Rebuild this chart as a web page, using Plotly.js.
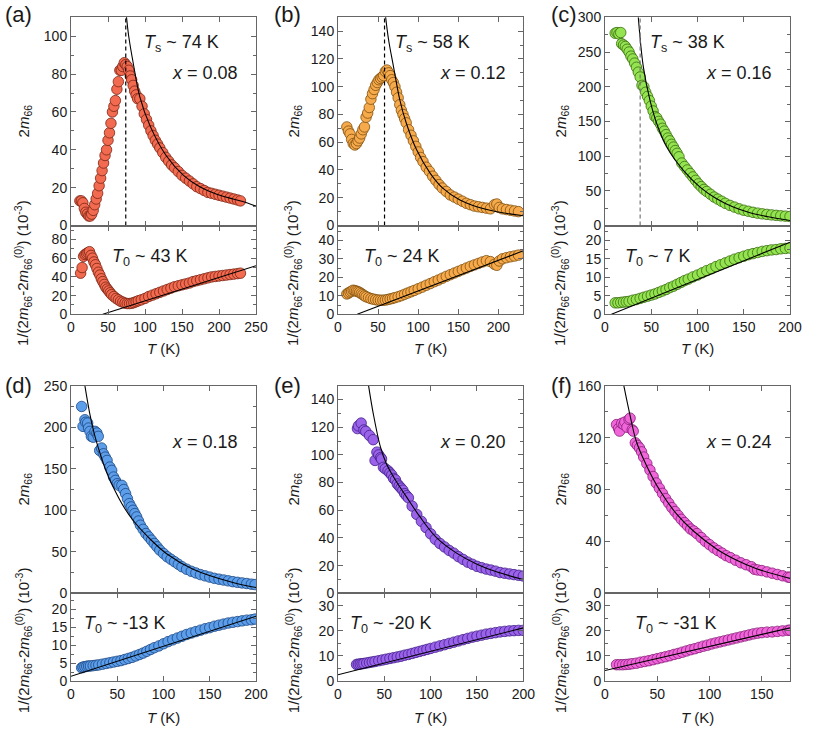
<!DOCTYPE html>
<html>
<head>
<meta charset="utf-8">
<script src="https://cdn.plot.ly/plotly-3.0.1.min.js"></script>
<style>html,body{margin:0;padding:0;background:#fff;}#chart{width:830px;height:736px;}</style>
</head>
<body>
<div id="chart"></div>
<script>
// ---------- DATA ----------
// Panel (a) x = 0.08
const aTopT = [12,14,16,18,20,22,24,26,28,30,32,34,36,38,40,42,44,46,48,50,52,54,56,58,60,62,64,66,68,70,72,74,76,78,80,82,84,86,88,90,93,96,99,102,105,108,111,114,117,120,124,128,132,136,140,145,150,155,160,165,170,175,180,185,190,195,200,205,210,215,220,225,229];
const aTopV = [13,13,12,9,7,6,5,5,6,8,11,14,17,21,25,29,33,37,40,45,49,54,60,63,66,72,76,82,82,84,86,85,84,82,79,77,74,71,69,67,67,63,59,56,53,50,47.5,45,43,41,38.5,36,34,32,30.5,28.5,26.5,25,23.5,22,20.5,19.5,18.5,17.5,17,16.5,16,15.5,15,14.5,14,13.5,13];
const aTopFitT = [74.5,78,84,93,107,129,152,174,197,219,231,250];
const aTopFitV = [112,100,86,68,52.5,36.7,26.5,20.5,16.5,14,12.8,10.2];
const aBotT = [13,15,17,19,21,23,25,27,29,31,33,35,37,39,41,43,45,47,49,51,53,55,58,61,64,67,70,73,76,79,82,85,88,91,95,100,105,110,115,120,125,130,135,140,145,150,155,160,165,170,175,180,185,190,195,200,205,210,215,220,225,229];
const aBotV = [44,50,62,64,65,66,67,63,60,56,53,49,45,42,38,35,32,29,27,25,23,21,19,17,15.5,14,13,12,11.5,11.5,11.8,12.5,13.5,14.5,15.5,17,19,20.5,22,23.5,25,26.5,28,29.5,30.5,31.5,32.5,33.5,35,36,37,38,39,40,40.5,41,41.5,42,42.5,43,43.5,44];
const aBotFitT = [43,250];
const aBotFitV = [0,52];

// Panel (b) x = 0.12
const bTopT = [11,13,15,17,19,21,23,25,27,29,31,33,35,37,39,41,43,45,47,49,51,53,55,57,59,61,63,65,67,69,71,73,75,77,79,81,83,85,88,91,94,97,100,103,106,110,114,118,122,126,130,135,140,145,150,155,160,165,170,175,180,185,190,195,198,201,205,210,215,220,225];
const bTopV = [71,68,66,62,59,58,59,61,63,66,69,71,78,81,85,91,95,98,101,103,105,106,107,108,111,112,110,108,105,103,100,96,92,87,83,80,77,74,69,65,61,57,53,49,46,42,39,35.5,32.5,29.5,27,24.5,22,20.5,19,17.5,16,15,14,13.5,13,12.5,12,15,15.5,13,12,11.5,11,10.5,10];
const bTopFitT = [59,63,69,77,85,98,115,131,152,173,198,231];
const bTopFitV = [152,134,115,90.6,74,54.5,37.6,26.7,18.3,13.5,9.9,7];
const bBotT = [11,13,15,17,19,21,23,25,27,29,31,33,35,38,41,44,47,50,53,56,59,62,65,68,71,75,79,83,87,91,95,100,105,110,115,120,125,130,135,140,145,150,155,160,165,170,175,180,185,190,195,198,201,205,210,215,220,225];
const bBotV = [11,11.5,12,12.5,13,12.8,12.5,12.2,11.8,11.2,10.6,10,9.5,9,8.5,8.2,7.9,7.7,7.6,7.6,7.7,8,8.3,8.6,9,9.5,10.1,10.8,11.5,12.2,12.9,13.8,14.7,15.7,16.6,17.6,18.5,19.5,20.5,21.4,22.3,23.2,24.1,25,25.9,26.7,27.5,28.3,29,28.5,27,26.5,28.8,30,30.6,31.1,31.5,32];
const bBotFitT = [24,231];
const bBotFitV = [0,34.3];

// Panel (c) x = 0.16
const cTopT = [11,13,15,17,18,20,22,24,26,28,30,32,34,36,38,40,42,44,46,48,50,52,54,56,58,60,62,64,66,68,70,72,74,76,78,80,83,86,89,92,95,98,101,104,107,110,114,118,122,126,130,135,140,145,150,155,160,165,170,175,180,185,190,195,200];
const cTopV = [277,278,276,278,262,260,258,254,250,244,240,234,228,221,214,202,200,192,186,180,172,165,157,155,150,146,140,136,131,126,122,117,113,108,104,99,90,85,80,75,70,65,60,56,52,49,45,41,38,35,32,29,26.5,24,22,20.5,19,17.8,16.8,16,15.3,14.6,14,13.5,13];
const cTopFitT = [36,41.4,48.6,55.9,66.7,84.7,102.7,120.7,138.7,156.8,174.8,200];
const cTopFitV = [300,229,180.5,147,113,79.4,55.4,38.5,26.5,18.3,13,7.2];
const cBotT = [11,14,17,20,23,26,30,34,38,42,46,50,54,58,62,66,70,74,78,82,86,90,95,100,105,110,115,120,125,130,135,140,145,150,155,160,165,170,175,180,185,190,195,200];
const cBotV = [3.1,3.1,3.2,3.3,3.4,3.5,3.8,4.0,4.3,4.6,4.9,5.2,5.5,5.9,6.3,6.7,7.2,7.6,8.1,8.6,9.1,9.5,10.1,10.6,11.2,11.8,12.3,12.9,13.4,13.9,14.4,14.9,15.3,15.7,16.1,16.4,16.7,17.0,17.2,17.4,17.5,17.7,17.8,17.9];
const cBotFitT = [7,200];
const cBotFitV = [0,19.5];

// Panel (d) x = 0.18
const dTopT = [11.5,13,15,16,18,19,20.5,22,24,26,28,29.5,31,33,35,37,39,42,44,46,48,50,52,55,57,59,61,63,65,67,69,71,73,75,78,81,84,87,90,93,96,100,104,108,112,116,120,125,130,135,140,145,150,155,160,165,170,175,180,185,190,195,199];
const dTopV = [225,201,209,206,205,199,195,189,188,195,193,189,172,175,168,164,160,152,148,140,136,132,130,130,125,120,114,108,104,100,96,92,87,82,77,72,68,64,60,56,52,48,44,41,38,35,32,29,26.5,24.5,22.5,21,19.5,18,17,16,15,14,13.2,12.5,11.8,11,10.5];
const dTopFitT = [15,20,25,31,38,46,56,67,84,103,132,175,200];
const dTopFitV = [250,218,193,170,147,127,106,88,67,48,29,13,7];
const dBotT = [11.5,13,15,17,19,21,24,27,30,34,38,42,46,50,54,58,62,66,70,74,78,82,86,90,95,100,105,110,115,120,125,130,135,140,145,150,155,160,165,170,175,180,185,190,195,199];
const dBotV = [3.7,3.9,4,4.1,4.2,4.2,4.3,4.4,4.5,4.7,4.9,5.1,5.3,5.5,5.7,6,6.3,6.6,7.0,7.4,7.8,8.3,8.8,9.3,9.8,10.4,11.0,11.5,12.0,12.5,13.0,13.4,13.8,14.2,14.6,14.9,15.3,15.6,15.9,16.2,16.4,16.6,16.8,17.0,17.1,17.3];
const dBotFitT = [0,200];
const dBotFitV = [1.3,18.1];

// Panel (e) x = 0.20
const eTopT = [21,22,25,28,30,34,38,40,42,44,46,47,49,51,54,56,58,60,62,64,66,68,70,72,74,76,80,85,90,95,100,105,110,115,120,125,130,135,140,145,150,155,160,165,170,175,180,185,190,195,200];
const eTopV = [119,121,123,118,117,114,111,96,102,100,98,97,91,90,88.5,87,85.5,83,82,79,77.5,76,74.5,72,70.5,69,63,57,52,47.5,43,39,36,33.5,31,29,26.5,24.5,22.5,21,19.5,18.5,17.5,16.8,16,15,14.5,14,13.5,13,12.5];
const eTopFitT = [33,38,45.7,52,61.8,73.6,88.7,106.6,128,150,171,200];
const eTopFitV = [150,130,106,94,82,70,55,40,29,21,15.5,10];
const eBotT = [20,22,24,26,28,31,34,37,40,44,48,52,56,60,64,68,72,76,80,84,88,92,96,100,105,110,115,120,125,130,135,140,145,150,155,160,165,170,175,180,185,190,195,200];
const eBotV = [6.6,6.7,6.8,6.9,7,7.2,7.4,7.6,7.8,8.1,8.4,8.7,9.0,9.3,9.6,9.9,10.3,10.6,11.0,11.4,11.8,12.2,12.6,13.0,13.5,14.0,14.5,15.0,15.5,16.0,16.5,17.0,17.5,17.9,18.3,18.7,19.0,19.3,19.6,19.8,20.0,20.1,20.2,20.2];
const eBotFitT = [0,200];
const eBotFitV = [2.5,21.2];

// Panel (f) x = 0.24
const fTopT = [11,13,14,16,18,19,21,23,24,26,27,29,31,33,35,37,40,43,46,49,52,55,58,61,64,67,70,73,76,79,82,85,88,92,96,100,104,108,112,116,120,125,130,135,140,143,146,150,155,160,165,170,175,177];
const fTopV = [130,127,125,131,130,132,128,134,135,126,125,116,114,112,109,105,100,95,90,85,81,77,73,69.5,66,63,60,57,54.5,52,49.5,48,46,43,40,37.5,35,33,31,29,27.5,25.5,23.5,22,20.5,18.5,18,17.5,16.5,15.5,14.5,13.5,12.5,12.3];
const fTopFitT = [18,24,30,40,52.7,68.6,84.6,107,126,145,177];
const fTopFitV = [160,137,117,98,79,61,48,34,25.5,19,11.5];
const fBotT = [11,14,17,20,23,26,30,34,38,42,46,50,54,58,62,66,70,74,78,82,86,90,94,98,102,106,110,114,118,122,126,130,134,138,142,146,150,155,160,165,170,175,177];
const fBotV = [6.5,6.5,6.5,6.6,6.7,6.9,7.1,7.5,7.8,8.1,8.5,8.9,9.3,9.7,10.1,10.6,11,11.5,12,12.5,12.9,13.4,13.9,14.3,14.8,15.2,15.6,16,16.4,16.8,17.2,17.6,18,18.4,18.8,19.1,19.3,19.5,19.6,19.8,20,20.2,20.3];
const fBotFitT = [0,177];
const fBotFitV = [4.2,21.2];

// Labels
const panelLetters = ['(a)','(b)','(c)','(d)','(e)','(f)'];
const dopings = ['0.08','0.12','0.16','0.18','0.20','0.24'];
const TsValues = [74,58,38];
const T0Values = ['43','24','7','-13','-20','-31'];
const xMax = [250,231,200,200,200,177];
const topMax = [110,150,300,250,150,160];
const botMax = [95,48,24,24.5,35,35];
const topDtick = [20,20,50,50,20,40];
const botDtick = [20,10,5,5,10,10];

// ---------- BUILD ----------
const W = 830, H = 736;
const colPx = [[71,256],[338,523.3],[605,790]];
const rowPx = [ {top:[17.3,225.5], bot:[225.5,314.3]}, {top:[385.7,593.3], bot:[593.3,681]} ];
const colors = [
  ['#F26A4F','#7a2414'],
  ['#F7AA4C','#7d4f0e'],
  ['#94E350','#3a6c12'],
  ['#5C9EEA','#1d4784'],
  ['#9A63EA','#43208a'],
  ['#F066DA','#881d78']
];
const series = [
  [aTopT,aTopV,aTopFitT,aTopFitV,aBotT,aBotV,aBotFitT,aBotFitV],
  [bTopT,bTopV,bTopFitT,bTopFitV,bBotT,bBotV,bBotFitT,bBotFitV],
  [cTopT,cTopV,cTopFitT,cTopFitV,cBotT,cBotV,cBotFitT,cBotFitV],
  [dTopT,dTopV,dTopFitT,dTopFitV,dBotT,dBotV,dBotFitT,dBotFitV],
  [eTopT,eTopV,eTopFitT,eTopFitV,eBotT,eBotV,eBotFitT,eBotFitV],
  [fTopT,fTopV,fTopFitT,fTopFitV,fBotT,fBotV,fBotFitT,fBotFitV]
];
const FONT = '"Liberation Sans", Arial, Helvetica, sans-serif';
const lineCol = '#666';
const traces = [];
const layout = {
  width: W, height: H, margin: {l:0,r:0,t:0,b:0},
  paper_bgcolor:'#fff', plot_bgcolor:'#fff', showlegend:false,
  font:{family:FONT, size:14, color:'#1a1a1a'},
  annotations: []
};
const px = x => x / W;
const py = y => 1 - y / H;

function axisBase(){
  return {showgrid:false, zeroline:false, showline:true, linecolor:lineCol, linewidth:1,
          mirror:'ticks', ticks:'inside', ticklen:5, tickcolor:lineCol, tickwidth:1,
          tickfont:{family:FONT, size:14, color:'#1a1a1a'}, fixedrange:true};
}

for (let p = 0; p < 6; p++) {
  const col = p % 3, row = Math.floor(p / 3);
  const s = series[p];
  const nTop = 2*p + 1, nBot = 2*p + 2;
  const xs = colPx[col], r = rowPx[row];
  const xdom = [px(xs[0]), px(xs[1])];
  const sfx = n => (n === 1 ? '' : String(n));
  const xt = Object.assign(axisBase(), {domain:xdom, anchor:'y'+sfx(nTop), range:[0,xMax[p]], dtick:50, showticklabels:false});
  const xb = Object.assign(axisBase(), {domain:xdom, anchor:'y'+sfx(nBot), range:[0,xMax[p]], dtick:50});
  const yt = Object.assign(axisBase(), {domain:[py(r.top[1]), py(r.top[0])], anchor:'x'+sfx(nTop), range:[0,topMax[p]], dtick:topDtick[p],
              minor:{ticks:'inside', ticklen:3, dtick:topDtick[p]/2, tickcolor:lineCol}});
  const yb = Object.assign(axisBase(), {domain:[py(r.bot[1]), py(r.bot[0])], anchor:'x'+sfx(nBot), range:[0,botMax[p]], dtick:botDtick[p],
              minor:{ticks:'inside', ticklen:3, dtick:botDtick[p]/2, tickcolor:lineCol}});
  layout['xaxis'+sfx(nTop)] = xt; layout['yaxis'+sfx(nTop)] = yt;
  layout['xaxis'+sfx(nBot)] = xb; layout['yaxis'+sfx(nBot)] = yb;

  const mk = {size:10.5, color:colors[p][0], line:{color:colors[p][1], width:0.8}};
  traces.push({type:'scatter', mode:'markers', x:s[0], y:s[1], xaxis:'x'+sfx(nTop), yaxis:'y'+sfx(nTop), marker:mk, cliponaxis:true, hoverinfo:'skip'});
  traces.push({type:'scatter', mode:'markers', x:s[4], y:s[5], xaxis:'x'+sfx(nBot), yaxis:'y'+sfx(nBot), marker:mk, cliponaxis:true, hoverinfo:'skip'});
  traces.push({type:'scatter', mode:'lines', x:s[2], y:s[3], xaxis:'x'+sfx(nTop), yaxis:'y'+sfx(nTop), line:{color:'#000', width:1.1, shape:'spline', smoothing:1}, hoverinfo:'skip'});
  traces.push({type:'scatter', mode:'lines', x:s[6], y:s[7], xaxis:'x'+sfx(nBot), yaxis:'y'+sfx(nBot), line:{color:'#000', width:1.1}, hoverinfo:'skip'});
  if (p < 3) {
    traces.push({type:'scatter', mode:'lines', x:[TsValues[p], TsValues[p]], y:[0, topMax[p]], xaxis:'x'+sfx(nTop), yaxis:'y'+sfx(nTop),
                 line:{color: p === 2 ? '#777' : '#000', width:1.2, dash:'4px,3px'}, hoverinfo:'skip'});
  }

  const A = layout.annotations;
  const letterX = [3, 272, 549][col];
  A.push({xref:'paper', yref:'paper', x:px(letterX), y:py((row===0?15:385)), xanchor:'left', yanchor:'middle', showarrow:false,
          text:panelLetters[p], font:{family:FONT, size:22, color:'#1a1a1a'}});
  const dopX = [240, 508, 774][col];
  A.push({xref:'paper', yref:'paper', x:px(dopX), y:py(row===0?73:442), xanchor:'right', yanchor:'middle', showarrow:false,
          text:'<i>x</i> = ' + dopings[p], font:{family:FONT, size:18, color:'#1a1a1a'}});
  if (p < 3) {
    const tsX = [142, 393, 648][col];
    A.push({xref:'paper', yref:'paper', x:px(tsX), y:py(43), xanchor:'left', yanchor:'middle', showarrow:false,
            text:'<i>T</i><sub>s</sub> ~ ' + TsValues[p] + ' K', font:{family:FONT, size:18, color:'#1a1a1a'}});
  }
  const t0X = row === 0 ? [110, 362, 623][col] : [82, 348, 633][col];
  A.push({xref:'paper', yref:'paper', x:px(t0X), y:py(row===0?257:624), xanchor:'left', yanchor:'middle', showarrow:false,
          text:'<i>T</i><sub>0</sub> ~ ' + T0Values[p] + ' K', font:{family:FONT, size:18, color:'#1a1a1a'}});
  const ytX = [24, 294, 561][col];
  A.push({xref:'paper', yref:'paper', x:px(ytX), y:py((r.top[0]+r.top[1])/2), xanchor:'center', yanchor:'middle', showarrow:false, textangle:-90,
          text:'2<i>m</i><sub>66</sub>', font:{family:FONT, size:15, color:'#1a1a1a'}});
  A.push({xref:'paper', yref:'paper', x:px(ytX-1), y:py((r.bot[0]+r.bot[1])/2 + 3), xanchor:'center', yanchor:'middle', showarrow:false, textangle:-90,
          text:'1/(2<i>m</i><sub>66</sub>-2<i>m</i><sub>66</sub><sup>(0)</sup>) (10<sup>-3</sup>)', font:{family:FONT, size:15, color:'#1a1a1a'}});
  A.push({xref:'paper', yref:'paper', x:px((xs[0]+xs[1])/2), y:py(row===0?348:717), xanchor:'center', yanchor:'middle', showarrow:false,
          text:'<i>T</i> (K)', font:{family:FONT, size:15, color:'#1a1a1a'}});
}

Plotly.newPlot('chart', traces, layout, {staticPlot:true, displayModeBar:false});
</script>
</body>
</html>
